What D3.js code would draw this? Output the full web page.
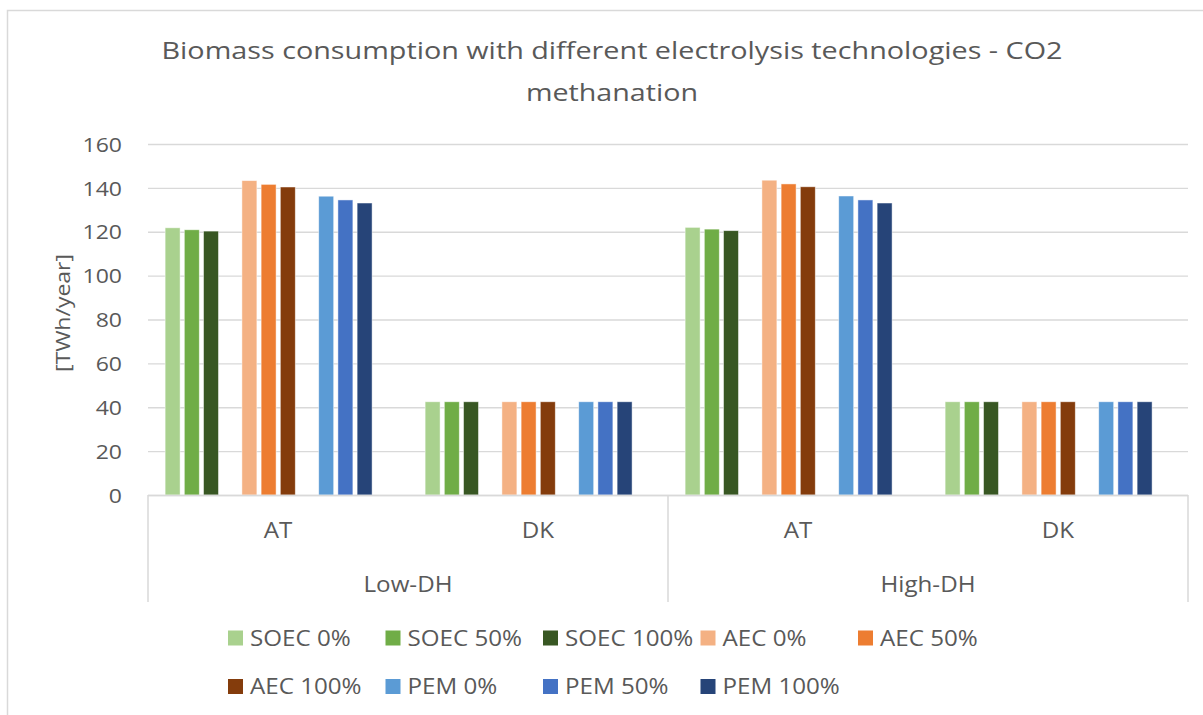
<!DOCTYPE html>
<html>
<head>
<meta charset="utf-8">
<script src="https://cdn.jsdelivr.net/npm/d3@7"></script>
<style>
  html, body { margin: 0; padding: 0; background: #fff; }
  svg { display: block; }
  text { font-family: "Open Sans", "Liberation Sans", sans-serif; fill: #595959; }
</style>
</head>
<body>
<svg id="chart" width="1203" height="715"></svg>
<script>
// ---- data ----
const titleLines = ["Biomass consumption with different electrolysis technologies - CO2", "methanation"];
const yAxisLabel = "[TWh/year]";
const groups = ["Low-DH", "High-DH"];
const countries = ["AT", "DK"];
const seriesNames = ["SOEC 0%", "SOEC 50%", "SOEC 100%", "AEC 0%", "AEC 50%", "AEC 100%", "PEM 0%", "PEM 50%", "PEM 100%"];
const seriesColors = ["#a9d18e", "#70ad47", "#385723", "#f4b183", "#ed7d31", "#843c0c", "#5b9bd5", "#4472c4", "#264478"];
const lowDH_AT  = [121.8, 120.9, 120.3, 143.3, 141.6, 140.4, 136.2, 134.5, 133.1];
const lowDH_DK  = [42.5, 42.5, 42.5, 42.5, 42.5, 42.5, 42.5, 42.5, 42.5];
const highDH_AT = [122.0, 121.2, 120.5, 143.5, 141.8, 140.5, 136.3, 134.5, 133.1];
const highDH_DK = [42.5, 42.5, 42.5, 42.5, 42.5, 42.5, 42.5, 42.5, 42.5];
const yTicks = [0, 20, 40, 60, 80, 100, 120, 140, 160];

// ---- build table ----
const categoryValues = [lowDH_AT, lowDH_DK, highDH_AT, highDH_DK];
const categories = [];
groups.forEach(g => countries.forEach(c => categories.push({ key: g + "|" + c, group: g, country: c })));
categories.forEach((c, i) => c.values = categoryValues[i]);
// slots: three technologies separated by empty slots
const slotKeys = ["SOEC 0%", "SOEC 50%", "SOEC 100%", "_gap1", "AEC 0%", "AEC 50%", "AEC 100%", "_gap2", "PEM 0%", "PEM 50%", "PEM 100%"];

const svg = d3.select("#chart");
const plot = { left: 148, right: 1188, top: 144, bottom: 495 };
const gridColor = "#d9d9d9";
const K = 1.15; // horizontal glyph stretch to mimic original font proportions

function stretch(sel, k) {
  sel.each(function () {
    const w = this.getComputedTextLength();
    this.setAttribute("textLength", w * k);
    this.setAttribute("lengthAdjust", "spacingAndGlyphs");
  });
}
function fitTo(sel, target) {
  sel.attr("textLength", target).attr("lengthAdjust", "spacingAndGlyphs");
}

// frame
svg.append("rect").attr("x", 7.5).attr("y", 10.5).attr("width", 1220).attr("height", 720)
  .attr("fill", "#fff").attr("stroke", gridColor).attr("stroke-width", 1.5);

// scales
const x0 = d3.scaleBand().domain(categories.map(c => c.key)).range([plot.left, plot.right]).padding(0);
const x1 = d3.scaleBand().domain(slotKeys).range([15, 226.2]).paddingInner(0.22).paddingOuter(0.11);
const y = d3.scaleLinear().domain([0, 160]).range([plot.bottom, plot.top]);

// gridlines
const yAxis = d3.axisLeft(y).tickValues(yTicks).tickSize(-(plot.right - plot.left)).tickPadding(26);
const gy = svg.append("g").attr("transform", `translate(${plot.left},0)`).call(yAxis);
gy.select(".domain").remove();
gy.selectAll(".tick line").attr("stroke", gridColor).attr("stroke-width", 1.3);
gy.selectAll(".tick text").attr("font-size", 20).attr("fill", "#595959")
  .attr("font-family", "Open Sans, sans-serif").attr("dy", "0.36em");
stretch(gy.selectAll(".tick text"), K);

// bars
const catG = svg.append("g").selectAll("g").data(categories).join("g")
  .attr("transform", d => `translate(${x0(d.key)},0)`);
catG.selectAll("rect").data(d => d.values.map((v, i) => ({ name: seriesNames[i], value: v, color: seriesColors[i] })))
  .join("rect")
  .attr("x", d => x1(d.name))
  .attr("width", x1.bandwidth())
  .attr("y", d => y(d.value))
  .attr("height", d => y(0) - y(d.value))
  .attr("fill", d => d.color)
  .attr("stroke", "#ffffff").attr("stroke-opacity", 0.6).attr("stroke-width", 0.8);

// category axis
const axisG = svg.append("g");
axisG.append("line").attr("x1", plot.left).attr("x2", plot.right).attr("y1", plot.bottom + 0.5).attr("y2", plot.bottom + 0.5)
  .attr("stroke", gridColor).attr("stroke-width", 1.5);
const groupScale = d3.scaleBand().domain(groups).range([plot.left, plot.right]);
const sepX = [plot.left, plot.left + groupScale.bandwidth(), plot.right];
axisG.selectAll("line.sep").data(sepX).join("line").attr("class", "sep")
  .attr("x1", d => d).attr("x2", d => d).attr("y1", plot.bottom).attr("y2", 602)
  .attr("stroke", gridColor).attr("stroke-width", 1.5);
const ctText = axisG.selectAll("text.country").data(categories).join("text").attr("class", "country")
  .attr("x", d => x0(d.key) + x0.bandwidth() / 2).attr("y", 538)
  .attr("text-anchor", "middle").attr("font-size", 21).text(d => d.country);
stretch(ctText, K);
const grText = axisG.selectAll("text.group").data(groups).join("text").attr("class", "group")
  .attr("x", d => groupScale(d) + groupScale.bandwidth() / 2).attr("y", 592)
  .attr("text-anchor", "middle").attr("font-size", 21).text(d => d);
stretch(grText, K);

// y label
const yl = svg.append("text").attr("transform", "translate(70,313) rotate(-90)")
  .attr("text-anchor", "middle").attr("font-size", 20).text(yAxisLabel);
stretch(yl, K);

// title
const tl1 = svg.append("text").attr("x", 612).attr("y", 59).attr("text-anchor", "middle")
  .attr("font-size", 24.5).text(titleLines[0]);
fitTo(tl1, 901);
const tl2 = svg.append("text").attr("x", 612).attr("y", 101).attr("text-anchor", "middle")
  .attr("font-size", 24.5).text(titleLines[1]);
fitTo(tl2, 172);

// legend
const legendItems = seriesNames.map((n, i) => ({ name: n, color: seriesColors[i], row: i < 5 ? 0 : 1, col: i < 5 ? i : i - 5 }));
const lg = svg.append("g").selectAll("g").data(legendItems).join("g")
  .attr("transform", d => `translate(${228 + d.col * 157.5},${638 + d.row * 48.5})`);
lg.append("rect").attr("x", 0).attr("y", -7.5).attr("width", 15).attr("height", 15).attr("fill", d => d.color);
const lgText = lg.append("text").attr("x", 22).attr("y", 0).attr("dy", "0.36em").attr("font-size", 21).text(d => d.name);
stretch(lgText, K);
</script>
</body>
</html>
